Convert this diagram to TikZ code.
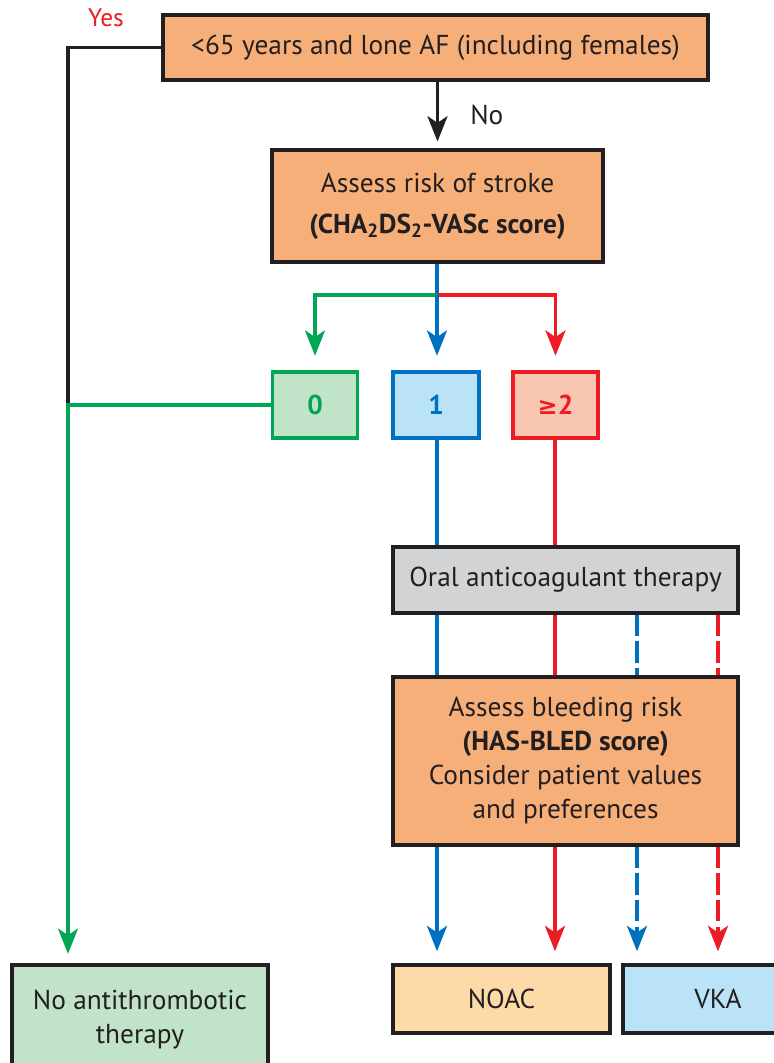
\documentclass[tikz,border=0pt]{standalone}
\usepackage{fontspec}
\setmainfont{PT Sans}
\newfontfamily\symf{DejaVu Sans}
\usetikzlibrary{arrows.meta}
\definecolor{dk}{HTML}{231F20}
\definecolor{org}{HTML}{F7AF7A}
\definecolor{peach}{HTML}{FDDAA8}
\definecolor{grl}{HTML}{00A651}
\definecolor{grf}{HTML}{C1E4C9}
\definecolor{bll}{HTML}{0070C0}
\definecolor{blf}{HTML}{BBE3F7}
\definecolor{rdl}{HTML}{ED1C24}
\definecolor{rdf}{HTML}{F9C7B1}
\definecolor{gry}{HTML}{D1D3D4}
\tikzset{
  box/.style={draw=dk, line width=2.7pt, inner sep=0pt, align=center, text=dk,
    font=\fontsize{20.5}{25.5}\selectfont},
  sbox/.style={line width=2.4pt, inner sep=0pt, align=center,
    font=\fontsize{20.5}{25}\selectfont\bfseries, minimum width=63.75pt, minimum height=49.5pt},
  conn/.style={line width=2.6pt},
  tip/.style={-{Stealth[length=19pt,width=15pt,inset=5pt]}},
  dsh/.style={dash pattern=on 16pt off 4pt},
}
\begin{document}
\begin{tikzpicture}[x=0.75pt,y=-0.75pt]
\useasboundingbox (0,0) rectangle (774,1063);
\clip (0,0) rectangle (774,1063);
% boxes
\node[box, fill=org, minimum width=408.75pt, minimum height=48.75pt] (q1) at (435.5,47.5)
  {<65 years and lone AF (including females)};
\node[box, fill=org, minimum width=248.25pt, minimum height=84pt] (q2) at (437.5,206)
  {Assess risk of stroke\\[5pt]\textbf{(CHA\textsubscript{2}DS\textsubscript{2}-VASc score)}};
\node[sbox, draw=grl, fill=grf, text=grl] (s0) at (315,405) {0};
\node[sbox, draw=bll, fill=blf, text=bll, minimum width=64.5pt] (s1) at (436,405) {1};
\node[sbox, draw=rdl, fill=rdf, text=rdl] (s2) at (555.5,405) {{\symf\fontsize{18}{20}\selectfont ≥}2};
\node[box, fill=gry, minimum width=258.75pt, minimum height=49.5pt] (oac) at (565.5,580)
  {Oral anticoagulant therapy};
\node[box, fill=org, minimum width=258.75pt, minimum height=126pt] (has) at (565.5,761)
  {Assess bleeding risk\\\textbf{(HAS-BLED score)}\\Consider patient values\\and preferences};
\node[box, fill=peach, minimum width=162.75pt, minimum height=51pt] (noac) at (501.5,999) {NOAC};
\node[box, fill=blf, minimum width=142.5pt, minimum height=51pt] (vka) at (718,999) {VKA};
\node[box, fill=grf, minimum width=192pt, minimum height=82.5pt] (none) at (140,1020)
  {No antithrombotic\\therapy};
% labels
\node[text=rdl, font=\fontsize{19}{22}\selectfont] (yes) at (106,18) {Yes};
% coordinates
\coordinate (yc) at (68,47.5);
\coordinate (jn) at (68,405);
\coordinate (sp) at (437,295);
\coordinate (xb) at (437,0);
\coordinate (xr) at (555,0);
\coordinate (xbd) at (637,0);
\coordinate (xrd) at (718,0);
% connectors
\draw[conn, dk, tip, shorten >=5pt] (q1.south -| q2.north) -- node[right=20pt, text=dk, font=\fontsize{20.5}{25}\selectfont] (no) {No} (q2.north);
\draw[conn, dk] (q1.west) -- (yc) -- (jn);
\draw[conn, grl, tip, shorten >=7pt] (s0.west) -- (jn) -- (none.north -| jn);
\draw[conn, bll] (q2.south -| sp) -- (sp);
\draw[conn, grl, tip, shorten >=11pt] (sp) -| (s0.north);
\draw[conn, rdl, tip, shorten >=11pt] (sp) -| (s2.north);
\draw[conn, bll, tip, shorten >=11pt] (sp) -- (s1.north -| sp);
\draw[conn, bll] (s1.south -| xb) -- (oac.north -| xb);
\draw[conn, rdl] (s2.south -| xr) -- (oac.north -| xr);
\draw[conn, bll] (oac.south -| xb) -- (has.north -| xb);
\draw[conn, rdl] (oac.south -| xr) -- (has.north -| xr);
\draw[conn, bll, dsh] (oac.south -| xbd) -- (has.north -| xbd);
\draw[conn, rdl, dsh] (oac.south -| xrd) -- (has.north -| xrd);
\draw[conn, bll, tip, shorten >=9pt] (has.south -| xb) -- (noac.north -| xb);
\draw[conn, rdl, tip, shorten >=9pt] (has.south -| xr) -- (noac.north -| xr);
\draw[conn, bll, dsh, tip, shorten >=9pt] (has.south -| xbd) -- (vka.north -| xbd);
\draw[conn, rdl, dsh, tip, shorten >=9pt] (has.south -| xrd) -- (vka.north -| xrd);
\end{tikzpicture}
\end{document}
